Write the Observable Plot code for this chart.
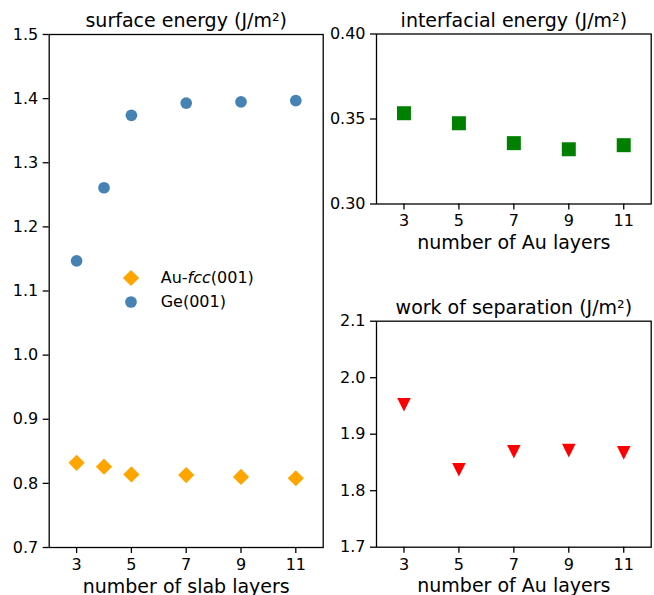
<!DOCTYPE html>
<html><head><meta charset="utf-8">
<script src="https://cdn.jsdelivr.net/npm/d3@7"></script>
<script src="https://cdn.jsdelivr.net/npm/@observablehq/plot@0.6"></script>
<style>
body{margin:0;background:#fff;}
#wrap{position:relative;width:654px;height:595px;overflow:hidden;font-family:"DejaVu Sans",sans-serif;background:#fff;}
.p{position:absolute;}
.legend{position:absolute;font-size:16px;color:#000;}
.legend .row{display:flex;align-items:center;height:24px;}
.legend svg{display:block;}
</style></head><body><div id="wrap"></div>
<script>
// ---- data ----
const slabLayers = [3, 4, 5, 7, 9, 11];
const geSurface = [1.147, 1.261, 1.374, 1.393, 1.395, 1.397];
const auSurface = [0.832, 0.826, 0.814, 0.813, 0.810, 0.808];
const auLayers = [3, 5, 7, 9, 11];
const interfacial = [0.3534, 0.3475, 0.3358, 0.3322, 0.3346];
const separation = [1.952, 1.837, 1.869, 1.871, 1.867];
const xTicks = [3, 5, 7, 9, 11];
const surfaceTicks = [0.7, 0.8, 0.9, 1.0, 1.1, 1.2, 1.3, 1.4, 1.5];
const interfacialTicks = [0.30, 0.35, 0.40];
const separationTicks = [1.7, 1.8, 1.9, 2.0, 2.1];
const seriesNames = ["Au-fcc(001)", "Ge(001)"];

const triangleDown = {
  draw(context, size) {
    const h = Math.sqrt(size / Math.PI);
    context.moveTo(0, h);
    context.lineTo(-h, -h);
    context.lineTo(h, -h);
    context.closePath();
  }
};

const FONT = "DejaVu Sans, sans-serif";
const wrap = document.getElementById("wrap");

function panel(o) {
  const chart = Plot.plot({
    width: o.width, height: o.height,
    marginTop: o.mt, marginRight: o.mr, marginBottom: o.mb, marginLeft: o.ml,
    style: {fontFamily: FONT, fontSize: "16px", color: "#000", background: "transparent", overflow: "visible"},
    x: {type: "linear", domain: [2, 12]},
    y: {type: "linear", domain: o.yDomain},
    marks: [
      Plot.axisX(xTicks, {tickSize: 6, tickPadding: 5, fontSize: 16, label: null, strokeWidth: 1.3, stroke: "#000", fill: "#000"}),
      Plot.axisY(o.yTicks, {tickSize: 6, tickPadding: 5, fontSize: 16, label: null, strokeWidth: 1.3, stroke: "#000", fill: "#000", tickFormat: o.yFmt}),
      ...o.marks,
      Plot.frame({stroke: "#000", strokeWidth: 1.3}),
      Plot.text([o.title], {frameAnchor: "top", lineAnchor: "bottom", dy: o.titleDy, fontSize: 19, fill: "#000", text: d => d}),
      Plot.text([o.label], {frameAnchor: "bottom", lineAnchor: "bottom", dy: o.labelDy, fontSize: 19, fill: "#000", text: d => d})
    ]
  });
  const div = document.createElement("div");
  div.className = "p";
  div.style.left = o.left + "px";
  div.style.top = o.top + "px";
  div.appendChild(chart);
  wrap.appendChild(div);
}

const surfData = slabLayers.map((x, i) => ({x, ge: geSurface[i], au: auSurface[i]}));
const intData = auLayers.map((x, i) => ({x, y: interfacial[i]}));
const sepData = auLayers.map((x, i) => ({x, y: separation[i]}));

panel({
  left: 0, top: 0, width: 330, height: 595, mt: 34, mr: 7.3, mb: 48, ml: 48.7,
  yDomain: [0.7, 1.5], yTicks: surfaceTicks, yFmt: d3.format(".1f"),
  title: "surface energy (J/m²)", titleDy: -8,
  label: "number of slab layers", labelDy: 45,
  marks: [
    Plot.dot(surfData, {x: "x", y: "au", symbol: "diamond2", r: 7.3, fill: "orange", stroke: "none"}),
    Plot.dot(surfData, {x: "x", y: "ge", symbol: "circle", r: 5.85, fill: "steelblue", stroke: "none"})
  ]
});

panel({
  left: 330, top: 0, width: 324, height: 260, mt: 33.5, mr: 3.3, mb: 56.5, ml: 46,
  yDomain: [0.30, 0.40], yTicks: interfacialTicks, yFmt: d3.format(".2f"),
  title: "interfacial energy (J/m²)", titleDy: -7.5,
  label: "number of Au layers", labelDy: 44.8,
  marks: [
    Plot.dot(intData, {x: "x", y: "y", symbol: "square", r: 7.9, fill: "green", stroke: "none"})
  ]
});

panel({
  left: 330, top: 280, width: 324, height: 315, mt: 40.7, mr: 3.3, mb: 48.3, ml: 46,
  yDomain: [1.7, 2.1], yTicks: separationTicks, yFmt: d3.format(".1f"),
  title: "work of separation (J/m²)", titleDy: -7.4,
  label: "number of Au layers", labelDy: 45,
  marks: [
    Plot.dot(sepData, {x: "x", y: "y", symbol: triangleDown, r: 6.8, fill: "red", stroke: "none"})
  ]
});

// legend
const leg = document.createElement("div");
leg.className = "legend";
leg.style.left = "120.7px";
leg.style.top = "265.7px";
leg.innerHTML =
  `<div class="row"><svg width="20" height="20" viewBox="-10 -10 20 20"><path d="M0,-8.1L8.1,0L0,8.1L-8.1,0Z" fill="orange"/></svg>` +
  `<span style="margin-left:20px">Au-<i>fcc</i>(001)</span></div>` +
  `<div class="row"><svg width="20" height="20" viewBox="-10 -10 20 20"><circle r="5.85" fill="steelblue"/></svg>` +
  `<span style="margin-left:20px">Ge(001)</span></div>`;
wrap.appendChild(leg);
</script></body></html>
